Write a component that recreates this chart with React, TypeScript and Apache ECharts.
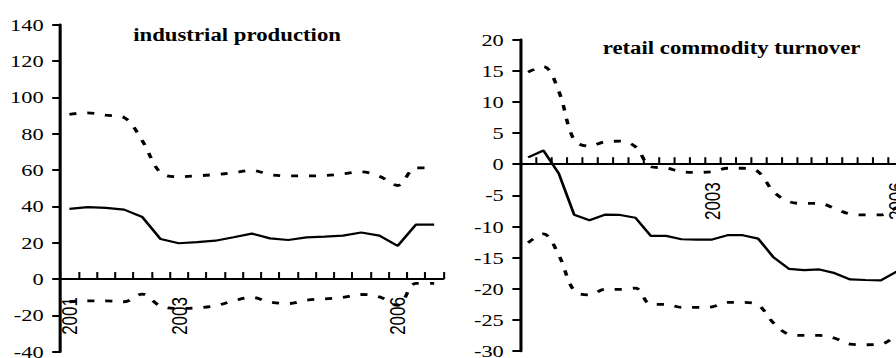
import { useEffect, useRef } from "react";
import * as echarts from "echarts";

// The figure is laid out on a 700px-wide canvas and widened horizontally by CSS.
const STRETCH = 1.28;
const WIDTH = 700;
const HEIGHT = 358;

const SERIF = "'Liberation Serif', 'Times New Roman', Times, serif";
const SANS = "'Liberation Sans', Arial, Helvetica, sans-serif";

// ---- industrial production (21 periods) ----
const industryLabels = [
  "2001", "", "", "", "", "", "2003", "", "", "", "", "", "", "", "", "", "", "", "2006", "", "",
];
const industryEstimate = [
  38.6, 39.6, 39.2, 38.2, 34.1, 22.0, 19.7, 20.3, 21.1, 23.0, 25.0, 22.4, 21.5, 22.9, 23.3, 23.9,
  25.6, 23.9, 18.3, 29.9, 29.9,
];
const industryUpper = [
  90.7, 91.5, 90.2, 88.9, 76.0, 58.5, 56.3, 56.8, 57.5, 58.5, 59.8, 57.5, 56.8, 56.8, 57.0, 57.9,
  59.0, 56.6, 51.5, 61.2, 61.2,
];
const industryLower = [
  -12.5, -12.0, -12.0, -12.5, -8.3, -14.9, -16.2, -15.9, -14.8, -12.0, -10.1, -12.7, -13.5, -11.6,
  -10.9, -10.1, -8.5, -9.8, -14.5, -2.4, -2.4,
];

// ---- retail commodity turnover (26 periods, the last ones run off the right edge) ----
const retailLabels = [
  "", "", "", "", "", "", "", "", "", "", "", "", "2003", "", "", "", "", "", "", "", "", "", "", "",
  "2006", "",
];
const retailEstimate = [
  1.1, 2.2, -1.5, -8.1, -9.0, -8.1, -8.15, -8.6, -11.5, -11.5, -12.05, -12.1, -12.1, -11.4, -11.4,
  -11.95, -14.95, -16.8, -17.0, -16.9, -17.5, -18.5, -18.6, -18.65, -17.3, -16.0,
];
const retailUpper = [
  14.8, 15.7, 11.7, 3.9, 2.9, 3.6, 3.7, 2.8, -0.4, -0.6, -1.2, -1.3, -1.2, -0.65, -0.65, -1.2, -4.4,
  -6.0, -6.3, -6.3, -7.1, -8.0, -8.15, -8.15, -7.0, -5.7,
];
const retailLower = [
  -12.6, -11.2, -14.6, -20.3, -21.0, -20.1, -20.1, -19.9, -22.5, -22.5, -23.0, -23.0, -22.9, -22.2,
  -22.2, -22.6, -25.5, -27.3, -27.5, -27.5, -27.95, -28.9, -29.0, -28.9, -27.6, -26.3,
];

const titles = ["industrial production", "retail commodity turnover"];

const BLACK = "#000";

const GRIDS = [
  { left: 47.1, top: 24.7, width: 299.2, height: 327, outerBoundsMode: "none" },
  { left: 406.6, top: 39.7, width: 311.5, height: 311.3, outerBoundsMode: "none" },
];
const Y_RANGES = [
  { min: -40, max: 140, interval: 20 },
  { min: -30, max: 20, interval: 5 },
];

// distance from the bottom of a grid up to its zero line
function zeroOffset(i: number) {
  const { min, max } = Y_RANGES[i];
  return (GRIDS[i].height * (0 - min)) / (max - min);
}

// category axis drawn through zero: line and ticks only
function zeroAxis(gridIndex: number, data: string[]) {
  return {
    type: "category" as const,
    gridIndex,
    data,
    boundaryGap: true,
    axisLine: { show: true, onZero: true, lineStyle: { color: BLACK, width: 2 } },
    axisTick: { show: true, inside: true, length: 7, interval: 0, lineStyle: { color: BLACK, width: 1.6 } },
    axisLabel: { show: false },
    splitLine: { show: false },
  };
}

// companion axis carrying the year labels just under the zero line
function labelAxis(gridIndex: number, data: string[]) {
  return {
    type: "category" as const,
    gridIndex,
    data,
    position: "bottom" as const,
    offset: -zeroOffset(gridIndex),
    boundaryGap: true,
    axisLine: { show: false, onZero: false },
    axisTick: { show: false },
    axisLabel: {
      interval: 0,
      rotate: 90,
      margin: 18,
      color: BLACK,
      fontFamily: SANS,
      fontSize: 17,
    },
    splitLine: { show: false },
  };
}

function valueAxis(gridIndex: number) {
  const r = Y_RANGES[gridIndex];
  return {
    type: "value" as const,
    gridIndex,
    min: r.min,
    max: r.max,
    interval: r.interval,
    axisLine: { show: true, onZero: false, lineStyle: { color: BLACK, width: 2.4 } },
    axisTick: { show: true, inside: false, length: 6.3, lineStyle: { color: BLACK, width: 2 } },
    axisLabel: { margin: 13, color: BLACK, fontFamily: SERIF, fontSize: 17.5 },
    splitLine: { show: false },
  };
}

function solid(xIndex: number, yIndex: number, data: number[]) {
  return {
    type: "line" as const,
    xAxisIndex: xIndex,
    yAxisIndex: yIndex,
    data,
    symbol: "none",
    showSymbol: false,
    lineStyle: { color: BLACK, width: 2.2, type: "solid" as const },
    z: 3,
  };
}

function dashed(xIndex: number, yIndex: number, data: number[]) {
  return {
    type: "line" as const,
    xAxisIndex: xIndex,
    yAxisIndex: yIndex,
    data,
    symbol: "none",
    showSymbol: false,
    smooth: 0.35,
    lineStyle: { color: BLACK, width: 2.8, type: [5.5, 8.5] as any },
    z: 3,
  };
}

function titleText(text: string, x: number, y: number) {
  return {
    type: "text" as const,
    x,
    y,
    style: {
      text,
      fontFamily: SERIF,
      fontWeight: "bold",
      fontSize: 17.8,
      fill: BLACK,
      align: "center",
      verticalAlign: "middle",
    },
  };
}

export default function App() {
  const ref = useRef<HTMLDivElement>(null);

  useEffect(() => {
    if (!ref.current) return;
    const chart = echarts.init(ref.current, null, { renderer: "svg", width: WIDTH, height: HEIGHT });
    chart.setOption({
      animation: false,
      backgroundColor: "#fff",
      grid: GRIDS,
      xAxis: [
        zeroAxis(0, industryLabels),
        zeroAxis(1, retailLabels),
        labelAxis(0, industryLabels),
        labelAxis(1, retailLabels),
      ],
      yAxis: [valueAxis(0), valueAxis(1)],
      series: [
        solid(0, 0, industryEstimate),
        dashed(0, 0, industryUpper),
        dashed(0, 0, industryLower),
        solid(1, 1, retailEstimate),
        dashed(1, 1, retailUpper),
        dashed(1, 1, retailLower),
      ],
      graphic: [titleText(titles[0], 185.2, 35), titleText(titles[1], 571.5, 48)],
    });
    return () => chart.dispose();
  }, []);

  return (
    <div
      ref={ref}
      style={{
        position: "absolute",
        left: 0,
        top: 0,
        width: WIDTH,
        height: HEIGHT,
        overflow: "hidden",
        transform: `scaleX(${STRETCH})`,
        transformOrigin: "0 0",
      }}
    />
  );
}
